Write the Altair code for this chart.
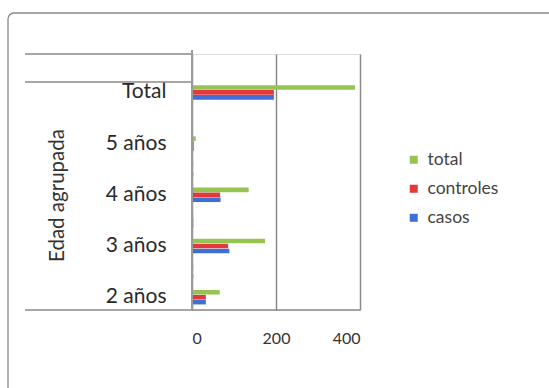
import altair as alt
import pandas as pd

# Categories, top to bottom (blank rows are unlabeled in the original)
categories = ["", "Total", " ", "5 años", "  ", "4 años", "   ", "3 años", "    ", "2 años"]
casos = [2, 195, 2, 4, 3, 68, 3, 89, 3, 33]
controles = [2, 195, 2, 4, 2, 67, 3, 86, 2, 33]
total = [1, 388, 2, 9, 3, 135, 3, 174, 3, 66]
series = ["total", "controles", "casos"]
colors = ["#95c453", "#e2393d", "#3f6fd2"]
x_ticks = [0, 200, 400]

rows = []
for i, c in enumerate(categories):
    rows.append({"cat": c, "serie": "casos", "valor": casos[i]})
    rows.append({"cat": c, "serie": "controles", "valor": controles[i]})
    rows.append({"cat": c, "serie": "total", "valor": total[i]})
df = pd.DataFrame(rows)

FONT = "Lato"
W, H = 168, 256

bars = alt.Chart(df).mark_bar(size=4.6).encode(
    x=alt.X("valor:Q", scale=alt.Scale(domain=[0, 400], nice=False),
            axis=alt.Axis(values=x_ticks, title=None, grid=True, gridColor="#8a8a8a",
                          gridWidth=1.5, domain=False, ticks=False, labelPadding=20,
                          labelFontSize=16, labelColor="#333", labelFont=FONT)),
    y=alt.Y("cat:N", sort=categories,
            scale=alt.Scale(paddingInner=0.42, paddingOuter=0.21),
            axis=alt.Axis(title="Edad agrupada", domain=False, ticks=False,
                          labelPadding=26, labelFontSize=21, labelColor="#2a2a2a",
                          labelFont=FONT, labelFontWeight="normal",
                          titleFont=FONT, titleFontSize=20.5, titleFontWeight="normal",
                          titleColor="#333", titleX=-135, titleY=141,
                          titleAngle=270, titleAlign="center", titleBaseline="middle")),
    yOffset=alt.YOffset("serie:N", sort=series,
                        scale=alt.Scale(paddingInner=0.0, paddingOuter=0.0)),
    color=alt.Color("serie:N", sort=series,
                    scale=alt.Scale(domain=series, range=colors),
                    legend=alt.Legend(title=None, orient="none", legendX=213, legendY=97,
                                      symbolType="square", symbolSize=64,
                                      symbolStrokeWidth=0, labelFont=FONT,
                                      labelFontSize=17.5, labelColor="#444",
                                      rowPadding=10, labelOffset=5)),
)

# decorative frame lines of the original Excel chart
lines_df = pd.DataFrame({"k": [0]})
line_color = "#8a8a8a"
top1 = alt.Chart(lines_df).mark_rule(color=line_color, strokeWidth=1.3).encode(
    x=alt.value(-167), x2=alt.value(0), y=alt.value(0))
top2 = alt.Chart(lines_df).mark_rule(color=line_color, strokeWidth=1.3).encode(
    x=alt.value(-167), x2=alt.value(0), y=alt.value(28))
bottom = alt.Chart(lines_df).mark_rule(color=line_color, strokeWidth=1.5).encode(
    x=alt.value(-167), x2=alt.value(W), y=alt.value(H))
axis_line = alt.Chart(lines_df).mark_rule(color="#9a9a9a", strokeWidth=2).encode(
    x=alt.value(0), y=alt.value(-4), y2=alt.value(H))
frame = alt.Chart(lines_df).mark_rect(fill=None, stroke="#888", strokeWidth=1.3,
                                      cornerRadius=6).encode(
    x=alt.value(-184), x2=alt.value(380), y=alt.value(-41), y2=alt.value(360))

chart = alt.layer(frame, top1, top2, bars, bottom, axis_line).properties(
    width=W, height=H,
    padding={"left": 192, "top": 54, "right": 189, "bottom": 78},
    autosize=alt.AutoSizeParams(type="none"),
).configure_view(stroke=None).configure(background="white")

chart.save("out.html", embed_options={"renderer": "svg", "actions": False})
